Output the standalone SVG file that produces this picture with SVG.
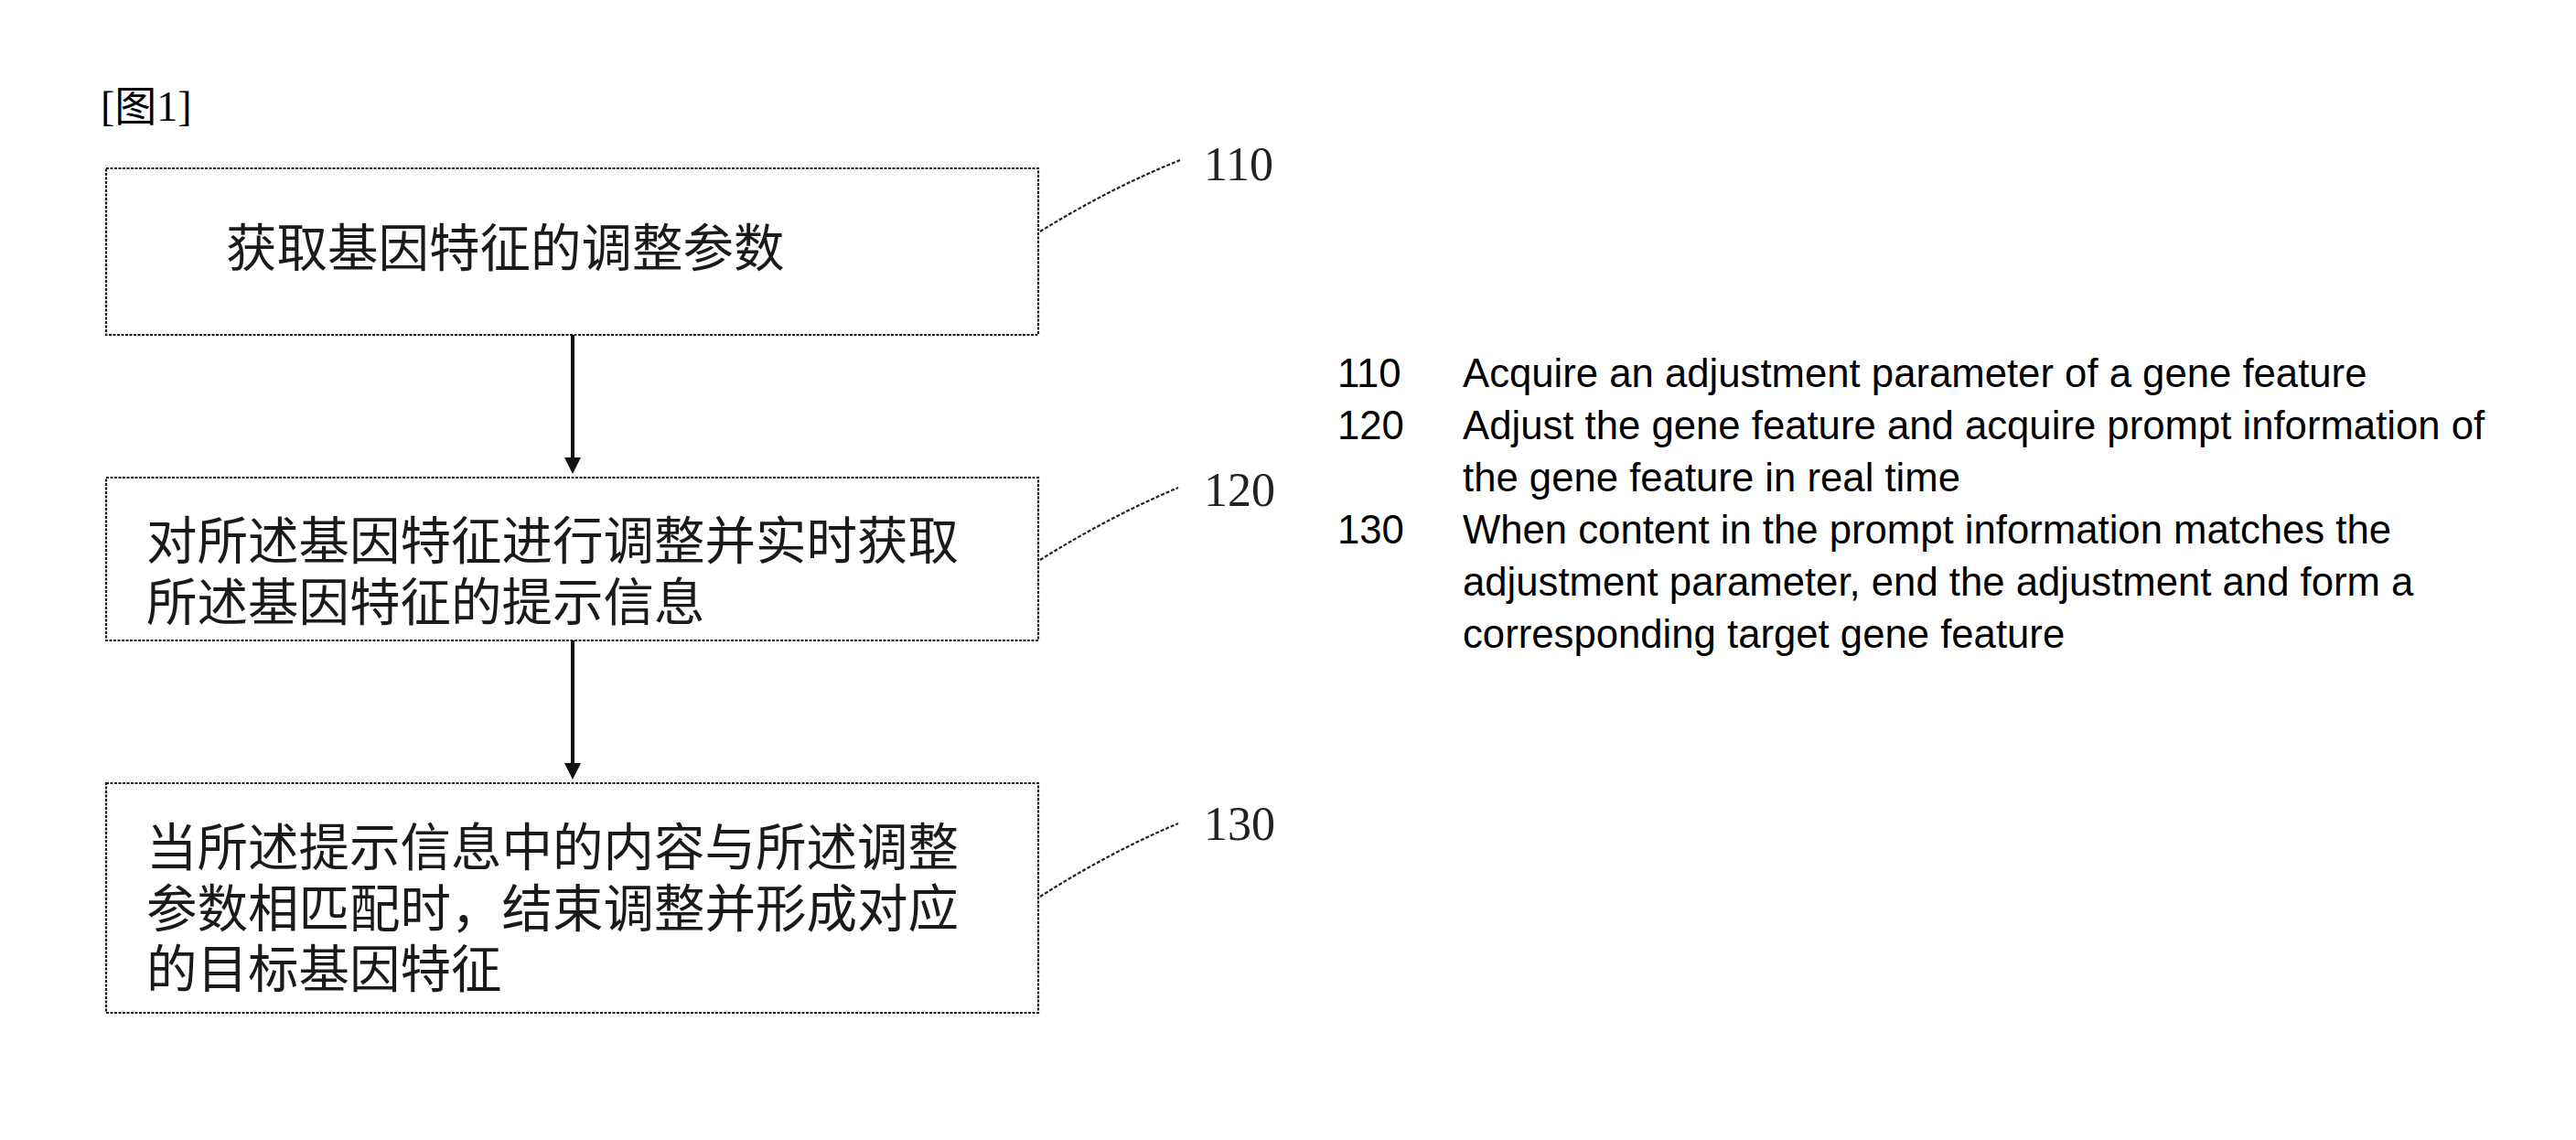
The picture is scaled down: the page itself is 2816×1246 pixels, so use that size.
<svg xmlns="http://www.w3.org/2000/svg" width="2816" height="1246" viewBox="0 0 2816 1246">
<style>
.box{fill:#fff;stroke:#1a1a1a;stroke-width:2.2;stroke-dasharray:3 1.5}
.cjk{font-family:"Noto Sans CJK SC","Noto Sans CJK JP",sans-serif;font-size:55.5px;fill:#1a1a1a}
.ref{font-family:"Liberation Serif","Times New Roman",serif;font-size:52px;fill:#222}
.leg{font-family:"Liberation Sans",Arial,sans-serif;font-size:43.7px;fill:#000}
.lead{fill:none;stroke:#222;stroke-width:2.2;stroke-dasharray:4 2}
.conn{stroke:#111;stroke-width:4;fill:none}
</style>
<text x="110" y="132" font-family="Liberation Serif,'Noto Sans CJK SC',serif" font-size="46" fill="#000">[图1]</text>

<g id="node-110">
<rect class="box" x="116" y="184" width="1019" height="182"/>
<text class="cjk" x="247" y="291">获取基因特征的调整参数</text>
<path class="lead" d="M1137,253 Q1215,205 1290,175"/>
<text class="ref" x="1316" y="197">110</text>
</g>

<g id="node-120">
<rect class="box" x="116" y="522" width="1019" height="178"/>
<text class="cjk" x="160" y="611">对所述基因特征进行调整并实时获取</text>
<text class="cjk" x="160" y="678">所述基因特征的提示信息</text>
<path class="lead" d="M1137,612 Q1212,565 1288,533"/>
<text class="ref" x="1316" y="553">120</text>
</g>

<g id="node-130">
<rect class="box" x="116" y="856" width="1019" height="251"/>
<text class="cjk" x="160" y="946">当所述提示信息中的内容与所述调整</text>
<text class="cjk" x="160" y="1013">参数相匹配时，结束调整并形成对应</text>
<text class="cjk" x="160" y="1079">的目标基因特征</text>
<path class="lead" d="M1137,980 Q1212,932 1288,900"/>
<text class="ref" x="1316" y="918">130</text>
</g>

<g id="connectors">
<line class="conn" x1="626" y1="366" x2="626" y2="505"/>
<path d="M617,500 L626,518 L635,500 Z" fill="#111"/>
<line class="conn" x1="626" y1="700" x2="626" y2="839"/>
<path d="M617,834 L626,852 L635,834 Z" fill="#111"/>
</g>

<g id="legend">
<text class="leg" x="1462" y="423">110</text>
<text class="leg" x="1599" y="423">Acquire an adjustment parameter of a gene feature</text>
<text class="leg" x="1462" y="480">120</text>
<text class="leg" x="1599" y="480">Adjust the gene feature and acquire prompt information of</text>
<text class="leg" x="1599" y="537">the gene feature in real time</text>
<text class="leg" x="1462" y="594">130</text>
<text class="leg" x="1599" y="594">When content in the prompt information matches the</text>
<text class="leg" x="1599" y="651">adjustment parameter, end the adjustment and form a</text>
<text class="leg" x="1599" y="708">corresponding target gene feature</text>
</g>
</svg>
